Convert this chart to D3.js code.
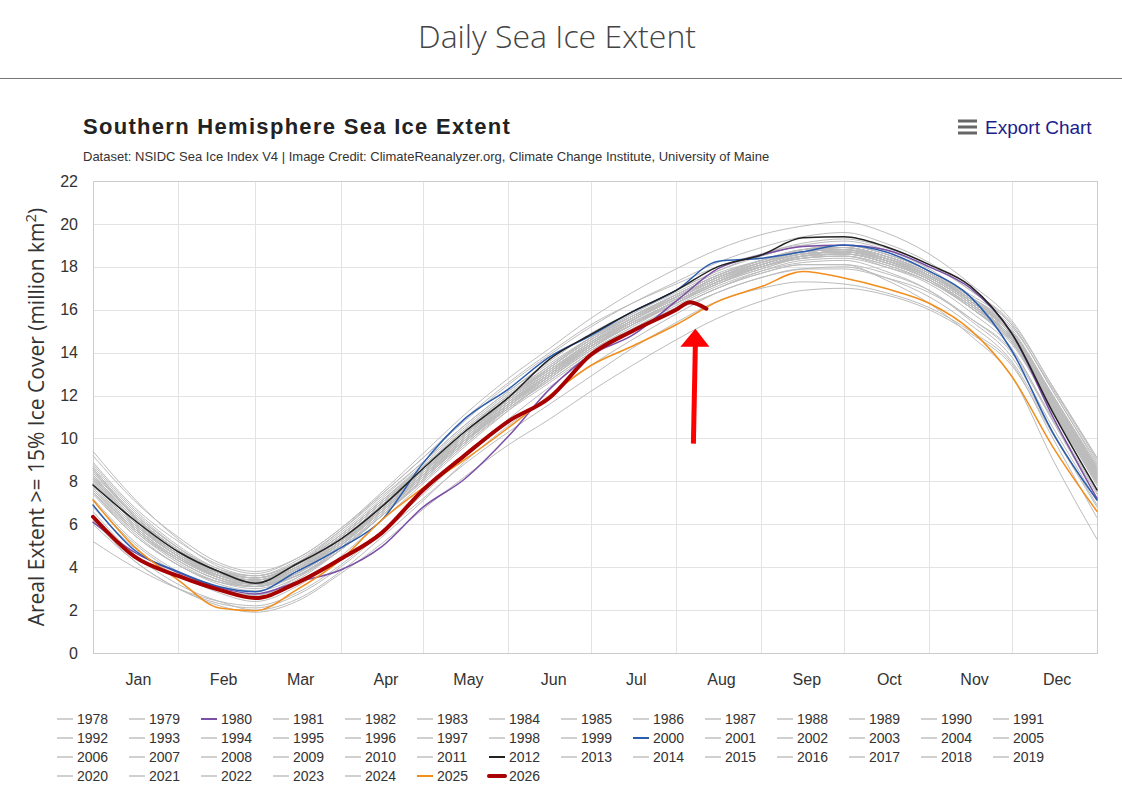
<!DOCTYPE html>
<html>
<head>
<meta charset="utf-8">
<script src="https://cdn.jsdelivr.net/npm/d3@7"></script>
<style>
  body { margin: 0; background: #fff; font-family: "Liberation Sans", Arial, sans-serif; }
</style>
</head>
<body>
<svg id="chart" width="1122" height="793"></svg>
<script>
// ── Data ──────────────────────────────────────────────────────────────────────
// sample days (day of year) shared by the full-year series
const DAYS = [0, 15, 31, 46, 59, 74, 90, 105, 120, 135, 151, 166, 181, 196, 212, 227, 243, 258, 273, 288, 304, 319, 334, 349, 365];
const DAYS_2026 = [0, 15, 31, 46, 59, 74, 90, 105, 120, 135, 151, 166, 181, 196, 212, 217, 223];

const MONTHS       = ['Jan', 'Feb', 'Mar', 'Apr', 'May', 'Jun', 'Jul', 'Aug', 'Sep', 'Oct', 'Nov', 'Dec'];
const MONTH_STARTS = [0, 31, 59, 90, 120, 151, 181, 212, 243, 273, 304, 334, 365];
const Y_TICKS      = [0, 2, 4, 6, 8, 10, 12, 14, 16, 18, 20, 22];

// grey years (million km²)
const ext1978 = [null, null, null, null, null, null, null, null, null, null, null, null, null, null, null, null, null, null, null, null, 17.6, 16.4, 14.8, 11.6, 8.2];
const ext1979 = [7.6, 5.8, 4.3, 3.4, 3.1, 3.8, 5.1, 6.7, 8.3, 10.0, 11.7, 13.0, 14.4, 15.5, 16.6, 17.5, 18.2, 18.6, 18.7, 18.3, 17.5, 16.3, 14.6, 11.4, 8.0];
const ext1981 = [7.9, 6.0, 4.5, 3.6, 3.3, 3.9, 5.2, 6.9, 8.6, 10.3, 11.9, 13.3, 14.6, 15.7, 16.7, 17.6, 18.3, 18.7, 18.9, 18.4, 17.6, 16.4, 14.9, 11.8, 8.3];
const ext1982 = [8.2, 6.3, 4.7, 3.7, 3.4, 4.0, 5.4, 7.0, 8.7, 10.4, 12.0, 13.2, 14.5, 15.4, 16.4, 17.3, 18.0, 18.5, 18.8, 18.5, 17.7, 16.5, 15.0, 12.0, 8.6];
const ext1983 = [8.5, 6.4, 4.8, 3.8, 3.5, 4.1, 5.3, 6.8, 8.4, 10.1, 11.8, 13.1, 14.4, 15.5, 16.5, 17.4, 18.1, 18.6, 18.7, 18.3, 17.6, 16.4, 14.8, 11.7, 8.4];
const ext1984 = [8.1, 6.2, 4.6, 3.6, 3.3, 4.0, 5.4, 7.0, 8.6, 10.2, 11.7, 13.0, 14.3, 15.3, 16.3, 17.2, 18.0, 18.5, 18.6, 18.2, 17.4, 16.2, 14.7, 11.5, 8.2];
const ext1985 = [8.0, 6.1, 4.6, 3.7, 3.4, 4.0, 5.3, 6.9, 8.5, 10.1, 11.8, 13.1, 14.4, 15.4, 16.4, 17.3, 18.1, 18.6, 18.7, 18.4, 17.6, 16.4, 14.9, 11.7, 8.4];
const ext1986 = [8.3, 6.3, 4.7, 3.7, 3.3, 3.8, 5.0, 6.6, 8.3, 10.0, 11.6, 12.9, 14.2, 15.3, 16.4, 17.3, 18.1, 18.6, 18.9, 18.5, 17.7, 16.5, 15.0, 11.9, 8.6];
const ext1987 = [8.6, 6.5, 4.9, 3.9, 3.6, 4.2, 5.5, 7.1, 8.7, 10.3, 11.9, 13.2, 14.4, 15.5, 16.5, 17.4, 18.2, 18.7, 18.8, 18.3, 17.5, 16.3, 14.7, 11.6, 8.3];
const ext1988 = [8.2, 6.2, 4.6, 3.6, 3.3, 3.9, 5.2, 6.8, 8.4, 10.0, 11.6, 12.9, 14.3, 15.4, 16.4, 17.3, 18.0, 18.5, 18.6, 18.2, 17.4, 16.2, 14.6, 11.4, 8.1];
const ext1989 = [7.8, 5.9, 4.4, 3.5, 3.2, 3.7, 5.0, 6.6, 8.2, 9.9, 11.6, 13.0, 14.3, 15.3, 16.3, 17.3, 18.0, 18.5, 18.7, 18.3, 17.5, 16.3, 14.7, 11.5, 8.2];
const ext1990 = [7.9, 6.0, 4.5, 3.6, 3.3, 3.9, 5.2, 6.7, 8.3, 9.9, 11.5, 12.8, 14.1, 15.2, 16.3, 17.2, 17.9, 18.4, 18.5, 18.1, 17.3, 16.1, 14.5, 11.3, 8.0];
const ext1991 = [7.7, 5.8, 4.3, 3.4, 3.1, 3.7, 5.0, 6.6, 8.2, 9.8, 11.5, 12.9, 14.2, 15.3, 16.4, 17.3, 18.0, 18.5, 18.6, 18.3, 17.5, 16.3, 14.7, 11.5, 8.1];
const ext1992 = [7.8, 5.9, 4.4, 3.5, 3.1, 3.6, 4.8, 6.4, 8.0, 9.7, 11.4, 12.8, 14.2, 15.3, 16.3, 17.2, 18.0, 18.4, 18.6, 18.2, 17.4, 16.2, 14.6, 11.4, 8.0];
const ext1993 = [7.6, 5.7, 4.2, 3.3, 3.0, 3.6, 4.9, 6.5, 8.1, 9.8, 11.5, 12.9, 14.3, 15.4, 16.4, 17.3, 18.0, 18.5, 18.6, 18.2, 17.4, 16.1, 14.5, 11.2, 7.9];
const ext1994 = [7.5, 5.7, 4.3, 3.4, 3.1, 3.7, 5.0, 6.6, 8.3, 10.0, 11.7, 13.1, 14.5, 15.6, 16.6, 17.5, 18.2, 18.7, 18.8, 18.4, 17.6, 16.4, 14.8, 11.6, 8.3];
const ext1995 = [8.0, 6.1, 4.5, 3.6, 3.3, 3.9, 5.2, 6.8, 8.4, 10.1, 11.8, 13.2, 14.5, 15.6, 16.6, 17.5, 18.2, 18.7, 18.8, 18.4, 17.6, 16.4, 14.8, 11.7, 8.4];
const ext1996 = [8.2, 6.2, 4.6, 3.7, 3.4, 4.0, 5.4, 7.0, 8.6, 10.3, 12.0, 13.3, 14.6, 15.6, 16.6, 17.5, 18.1, 18.6, 18.7, 18.3, 17.5, 16.3, 14.7, 11.5, 8.1];
const ext1997 = [7.8, 5.9, 4.4, 3.5, 3.2, 3.8, 5.1, 6.7, 8.3, 9.9, 11.5, 12.9, 14.3, 15.4, 16.4, 17.3, 18.0, 18.5, 18.6, 18.2, 17.4, 16.2, 14.6, 11.3, 7.9];
const ext1998 = [7.5, 5.6, 4.1, 3.3, 3.1, 3.7, 5.1, 6.8, 8.5, 10.2, 11.9, 13.2, 14.5, 15.6, 16.6, 17.5, 18.2, 18.7, 18.9, 18.5, 17.7, 16.5, 14.9, 11.8, 8.5];
const ext1999 = [8.1, 6.1, 4.5, 3.5, 3.2, 3.9, 5.3, 6.9, 8.5, 10.2, 11.9, 13.3, 14.6, 15.7, 16.7, 17.6, 18.3, 18.7, 18.8, 18.4, 17.6, 16.4, 14.8, 11.6, 8.2];
const ext2001 = [7.4, 5.5, 4.1, 3.3, 3.1, 3.8, 5.2, 6.9, 8.5, 10.1, 11.7, 13.0, 14.3, 15.3, 16.3, 17.2, 17.9, 18.4, 18.5, 18.1, 17.3, 16.1, 14.5, 11.4, 8.1];
const ext2002 = [7.9, 6.0, 4.5, 3.6, 3.3, 3.9, 5.2, 6.7, 8.3, 9.9, 11.4, 12.7, 14.0, 15.1, 16.1, 17.0, 17.8, 18.3, 18.4, 18.0, 17.3, 16.1, 14.6, 11.4, 8.0];
const ext2003 = [7.7, 5.8, 4.4, 3.6, 3.4, 4.1, 5.5, 7.1, 8.7, 10.4, 12.0, 13.4, 14.7, 15.7, 16.7, 17.6, 18.3, 18.8, 18.9, 18.5, 17.7, 16.5, 14.9, 11.8, 8.4];
const ext2004 = [8.3, 6.3, 4.7, 3.8, 3.5, 4.1, 5.4, 7.0, 8.6, 10.2, 11.8, 13.1, 14.4, 15.5, 16.5, 17.4, 18.1, 18.6, 18.7, 18.3, 17.6, 16.5, 15.0, 12.0, 8.7];
const ext2005 = [8.6, 6.5, 4.9, 3.8, 3.4, 3.9, 5.1, 6.6, 8.2, 9.9, 11.6, 13.0, 14.4, 15.6, 16.7, 17.6, 18.3, 18.8, 18.9, 18.5, 17.7, 16.4, 14.8, 11.6, 8.3];
const ext2006 = [8.1, 6.1, 4.5, 3.5, 3.1, 3.6, 4.9, 6.5, 8.2, 9.9, 11.6, 13.0, 14.4, 15.5, 16.6, 17.5, 18.3, 18.8, 19.0, 18.6, 17.8, 16.6, 15.1, 12.0, 8.7];
const ext2007 = [8.5, 6.4, 4.8, 3.8, 3.5, 4.1, 5.5, 7.1, 8.8, 10.5, 12.1, 13.4, 14.7, 15.8, 16.9, 17.8, 18.5, 19.0, 19.2, 18.8, 17.9, 16.6, 15.0, 11.9, 8.6];
const ext2008 = [9.4, 7.2, 5.3, 4.0, 3.6, 4.2, 5.6, 7.2, 8.9, 10.6, 12.2, 13.5, 14.7, 15.7, 16.6, 17.4, 18.1, 18.6, 18.7, 18.4, 17.7, 16.6, 15.2, 12.3, 9.0];
const ext2009 = [8.8, 6.7, 5.0, 3.9, 3.5, 4.0, 5.2, 6.8, 8.5, 10.2, 11.9, 13.3, 14.6, 15.7, 16.7, 17.6, 18.3, 18.8, 19.0, 18.6, 17.8, 16.6, 15.0, 11.9, 8.5];
const ext2010 = [8.3, 6.3, 4.7, 3.8, 3.6, 4.3, 5.7, 7.3, 8.9, 10.6, 12.2, 13.6, 14.9, 15.9, 16.9, 17.8, 18.6, 19.1, 19.3, 18.9, 18.1, 16.9, 15.4, 12.4, 9.1];
const ext2011 = [8.7, 6.6, 4.9, 3.7, 3.2, 3.6, 4.8, 6.4, 8.1, 9.8, 11.6, 13.0, 14.4, 15.5, 16.6, 17.5, 18.2, 18.7, 18.8, 18.4, 17.6, 16.4, 14.9, 11.8, 8.5];
const ext2013 = [8.4, 6.4, 4.8, 3.8, 3.5, 4.2, 5.7, 7.4, 9.1, 10.8, 12.5, 13.9, 15.2, 16.3, 17.3, 18.2, 18.9, 19.4, 19.6, 19.1, 18.2, 16.9, 15.3, 12.2, 8.9];
const ext2014 = [8.9, 6.8, 5.2, 4.1, 3.7, 4.4, 5.8, 7.5, 9.3, 11.1, 12.8, 14.2, 15.6, 16.8, 17.9, 18.8, 19.5, 19.9, 20.1, 19.6, 18.6, 17.2, 15.5, 12.4, 9.1];
const ext2015 = [9.2, 7.1, 5.4, 4.2, 3.8, 4.4, 5.8, 7.4, 9.1, 10.9, 12.6, 14.0, 15.3, 16.3, 17.2, 18.0, 18.6, 19.0, 19.0, 18.6, 17.8, 16.7, 15.3, 12.2, 8.8];
const ext2016 = [8.6, 6.4, 4.7, 3.6, 3.2, 3.6, 4.9, 6.4, 8.0, 9.7, 11.3, 12.6, 13.9, 15.0, 16.1, 17.0, 17.7, 18.1, 18.1, 17.4, 16.3, 14.8, 12.9, 9.0, 5.3];
const ext2017 = [5.2, 4.0, 3.0, 2.4, 2.2, 2.8, 4.1, 5.7, 7.4, 9.2, 10.9, 12.4, 13.8, 15.0, 16.1, 17.0, 17.7, 18.1, 18.1, 17.7, 16.9, 15.6, 14.0, 10.8, 7.4];
const ext2018 = [7.1, 5.1, 3.7, 2.8, 2.4, 3.1, 4.5, 6.2, 7.9, 9.6, 11.3, 12.8, 14.1, 15.1, 16.0, 16.8, 17.5, 17.9, 17.9, 17.5, 16.8, 15.6, 14.1, 10.9, 7.5];
const ext2019 = [7.2, 5.2, 3.8, 3.0, 2.7, 3.4, 4.8, 6.4, 8.1, 9.8, 11.4, 12.7, 14.0, 15.1, 16.2, 17.1, 17.8, 18.2, 18.3, 17.8, 16.9, 15.5, 13.8, 10.5, 7.1];
const ext2020 = [6.8, 4.9, 3.6, 2.9, 2.7, 3.5, 5.0, 6.7, 8.4, 10.2, 11.9, 13.3, 14.7, 15.8, 16.8, 17.7, 18.3, 18.7, 18.8, 18.3, 17.4, 16.1, 14.4, 11.3, 7.8];
const ext2021 = [7.5, 5.5, 4.1, 3.2, 2.9, 3.5, 4.8, 6.4, 8.1, 9.8, 11.5, 12.9, 14.2, 15.3, 16.4, 17.3, 18.0, 18.4, 18.5, 18.0, 17.2, 15.9, 14.2, 10.8, 7.2];
const ext2022 = [6.6, 4.6, 3.2, 2.4, 2.0, 2.5, 3.8, 5.4, 7.1, 8.9, 10.6, 12.0, 13.4, 14.6, 15.8, 16.8, 17.5, 17.9, 18.0, 17.5, 16.6, 15.3, 13.6, 10.3, 6.9];
const ext2023 = [6.2, 4.3, 3.0, 2.2, 1.9, 2.4, 3.7, 5.1, 6.7, 8.2, 9.7, 10.9, 12.2, 13.4, 14.6, 15.6, 16.4, 16.9, 17.0, 16.7, 16.0, 14.9, 13.4, 10.2, 6.8];
const ext2024 = [6.0, 4.3, 3.0, 2.3, 2.1, 2.7, 4.0, 5.6, 7.2, 8.8, 10.3, 11.6, 12.9, 14.2, 15.4, 16.4, 17.0, 17.3, 17.2, 16.8, 16.1, 15.0, 13.5, 10.0, 6.3];

// highlighted years
const ext1980 = [6.1, 4.7, 3.75, 3.05, 2.75, 3.3, 3.87, 4.96, 6.8, 8.1, 10.1, 12.3, 13.9, 14.8, 16.4, 17.9, 18.55, 18.95, 19.0, 18.8, 18.0, 17.0, 14.9, 11.0, 7.2];
const ext2000 = [6.9, 4.8, 3.79, 3.09, 2.86, 3.79, 4.9, 6.2, 8.85, 10.9, 12.3, 13.8, 14.8, 15.9, 16.9, 18.25, 18.4, 18.7, 19.02, 18.7, 17.8, 16.6, 14.1, 10.25, 7.13];
const ext2012 = [7.83, 6.2, 4.72, 3.79, 3.25, 4.15, 5.3, 6.82, 8.6, 10.3, 11.9, 13.7, 14.85, 15.9, 16.9, 18.0, 18.55, 19.35, 19.4, 18.95, 18.1, 17.1, 14.9, 11.2, 7.6];
const ext2025 = [7.13, 4.96, 3.4, 2.1, 1.97, 2.94, 4.34, 6.2, 7.7, 9.0, 10.5, 12.0, 13.4, 14.3, 15.3, 16.38, 17.08, 17.78, 17.48, 17.0, 16.3, 15.06, 12.9, 9.6, 6.6];
const ext2026 = [6.35, 4.5, 3.59, 2.94, 2.56, 3.26, 4.38, 5.6, 7.6, 9.2, 10.8, 11.9, 13.9, 15.0, 16.0, 16.35, 16.05];

const GREY_YEARS = [1978, 1979, 1981, 1982, 1983, 1984, 1985, 1986, 1987, 1988, 1989, 1990, 1991, 1992, 1993, 1994, 1995, 1996, 1997, 1998, 1999, 2001, 2002, 2003, 2004, 2005, 2006, 2007, 2008, 2009, 2010, 2011, 2013, 2014, 2015, 2016, 2017, 2018, 2019, 2020, 2021, 2022, 2023, 2024];
const GREY_VALUES = [ext1978, ext1979, ext1981, ext1982, ext1983, ext1984, ext1985, ext1986, ext1987, ext1988, ext1989, ext1990, ext1991, ext1992, ext1993, ext1994, ext1995, ext1996, ext1997, ext1998, ext1999, ext2001, ext2002, ext2003, ext2004, ext2005, ext2006, ext2007, ext2008, ext2009, ext2010, ext2011, ext2013, ext2014, ext2015, ext2016, ext2017, ext2018, ext2019, ext2020, ext2021, ext2022, ext2023, ext2024];

const HIGHLIGHT = [
  { year: 1980, values: ext1980, days: DAYS,      color: '#7b4fa6', width: 1.5 },
  { year: 2000, values: ext2000, days: DAYS,      color: '#2a5cae', width: 1.5 },
  { year: 2012, values: ext2012, days: DAYS,      color: '#222222', width: 1.5 },
  { year: 2025, values: ext2025, days: DAYS,      color: '#f28e1c', width: 1.5 },
  { year: 2026, values: ext2026, days: DAYS_2026, color: '#a80000', width: 4 }
];

// ── Layout ────────────────────────────────────────────────────────────────────
const PLOT = { left: 93, right: 1097, top: 181, bottom: 653 };
const svg  = d3.select('#chart');

const x = d3.scaleLinear().domain([0, 365]).range([PLOT.left, PLOT.right]);
const y = d3.scaleLinear().domain([0, 22]).range([PLOT.bottom, PLOT.top]);

// ── Page header ───────────────────────────────────────────────────────────────
svg.append('text')
  .attr('x', 557).attr('y', 48)
  .attr('text-anchor', 'middle')
  .style('font-family', '"Open Sans", sans-serif')
  .style('font-weight', 300)
  .style('font-size', '32px')
  .style('fill', '#444')
  .text('Daily Sea Ice Extent');

svg.append('line')
  .attr('x1', 0).attr('x2', 1122).attr('y1', 78.5).attr('y2', 78.5)
  .attr('stroke', '#777').attr('stroke-width', 1);

svg.append('text')
  .attr('x', 83).attr('y', 134)
  .style('font-weight', 'bold')
  .style('font-size', '22px')
  .style('letter-spacing', '1.3px')
  .style('fill', '#222')
  .text('Southern Hemisphere Sea Ice Extent');

svg.append('text')
  .attr('x', 83).attr('y', 161)
  .style('font-size', '13px')
  .style('fill', '#333')
  .text('Dataset: NSIDC Sea Ice Index V4 | Image Credit: ClimateReanalyzer.org, Climate Change Institute, University of Maine');

// export menu
const exp = svg.append('g');
[121, 127, 133].forEach(yy => {
  exp.append('rect').attr('x', 958).attr('y', yy - 1.5).attr('width', 19).attr('height', 3).attr('fill', '#666');
});
exp.append('text')
  .attr('x', 985).attr('y', 134)
  .style('font-size', '19px')
  .style('fill', '#1c1c8c')
  .text('Export Chart');

// ── Grid ──────────────────────────────────────────────────────────────────────
const grid = svg.append('g');
grid.selectAll('.hgrid')
  .data(Y_TICKS)
  .join('line')
  .attr('x1', PLOT.left).attr('x2', PLOT.right)
  .attr('y1', d => Math.round(y(d)) + 0.5).attr('y2', d => Math.round(y(d)) + 0.5)
  .attr('stroke', '#e3e3e3');

grid.selectAll('.vgrid')
  .data(MONTH_STARTS)
  .join('line')
  .attr('x1', d => Math.round(x(d)) + 0.5).attr('x2', d => Math.round(x(d)) + 0.5)
  .attr('y1', PLOT.top).attr('y2', PLOT.bottom)
  .attr('stroke', '#e3e3e3');

svg.append('rect')
  .attr('x', PLOT.left + 0.5).attr('y', PLOT.top + 0.5)
  .attr('width', PLOT.right - PLOT.left).attr('height', PLOT.bottom - PLOT.top)
  .attr('fill', 'none').attr('stroke', '#ccc');

// ── Axes ──────────────────────────────────────────────────────────────────────
const yAxis = svg.append('g')
  .attr('transform', `translate(${PLOT.left},0)`)
  .call(d3.axisLeft(y).tickValues(Y_TICKS).tickSize(0).tickPadding(15));
yAxis.select('.domain').remove();
yAxis.selectAll('text')
  .style('font-family', '"Liberation Sans", Arial, sans-serif')
  .style('font-size', '16px')
  .style('fill', '#333');

// month labels sit about half a month after each month start
svg.append('g').selectAll('text')
  .data(MONTHS)
  .join('text')
  .attr('x', (d, i) => x(MONTH_STARTS[i] + 16.5))
  .attr('y', 685)
  .attr('text-anchor', 'middle')
  .style('font-size', '16px')
  .style('fill', '#333')
  .text(d => d);

const yTitle = svg.append('text')
  .attr('transform', 'translate(44,417) rotate(-90)')
  .attr('text-anchor', 'middle')
  .style('font-family', '"Open Sans", sans-serif')
  .style('font-size', '21px')
  .style('fill', '#333');
yTitle.append('tspan').text('Areal Extent >= 15% Ice Cover (million km');
yTitle.append('tspan').attr('dy', -8).style('font-size', '15px').text('2');
yTitle.append('tspan').attr('dy', 8).text(')');

// ── Lines ─────────────────────────────────────────────────────────────────────
const plot = svg.append('g');

function lineFor(days) {
  return d3.line()
    .defined(d => d != null)
    .x((d, i) => x(days[i]))
    .y(d => y(d))
    .curve(d3.curveMonotoneX);
}

plot.selectAll('.grey')
  .data(GREY_VALUES)
  .join('path')
  .attr('class', 'grey')
  .attr('d', v => lineFor(DAYS)(v))
  .attr('fill', 'none')
  .attr('stroke', '#bcbcbc')
  .attr('stroke-width', 1);

plot.selectAll('.hl')
  .data(HIGHLIGHT)
  .join('path')
  .attr('class', 'hl')
  .attr('d', s => lineFor(s.days)(s.values))
  .attr('fill', 'none')
  .attr('stroke', s => s.color)
  .attr('stroke-width', s => s.width)
  .attr('stroke-linejoin', 'round')
  .attr('stroke-linecap', 'round');

// ── Arrow annotation pointing at the latest 2026 value ────────────────────────
const lastDay = DAYS_2026[DAYS_2026.length - 1];
const ax  = x(lastDay - 4);
const tip = y(ext2026[ext2026.length - 1]) + 20;
const arrow = svg.append('g').attr('fill', '#ff0000').attr('stroke', 'none');
arrow.append('line')
  .attr('x1', ax - 2).attr('y1', tip + 115)
  .attr('x2', ax).attr('y2', tip + 14)
  .attr('stroke', '#ff0000').attr('stroke-width', 5);
arrow.append('path')
  .attr('d', `M${ax},${tip} L${ax + 14},${tip + 18} L${ax - 15},${tip + 18} Z`);

// ── Legend ────────────────────────────────────────────────────────────────────
const ALL_YEARS = d3.range(1978, 2027);
const hlByYear  = new Map(HIGHLIGHT.map(s => [s.year, s]));
const legend = svg.append('g');
const items = legend.selectAll('g')
  .data(ALL_YEARS)
  .join('g')
  .attr('transform', (d, i) => `translate(${57 + (i % 14) * 72},${719 + Math.floor(i / 14) * 19})`);

items.append('line')
  .attr('x1', 0).attr('x2', 16)
  .attr('stroke', d => hlByYear.has(d) ? hlByYear.get(d).color : '#d0d0d0')
  .attr('stroke-width', d => d === 2026 ? 4 : 2)
  .attr('stroke-linecap', d => d === 2026 ? 'round' : 'butt');

items.append('text')
  .attr('x', 20).attr('dy', '0.35em')
  .style('font-size', '14px')
  .style('fill', '#333')
  .text(d => d);
</script>
</body>
</html>
